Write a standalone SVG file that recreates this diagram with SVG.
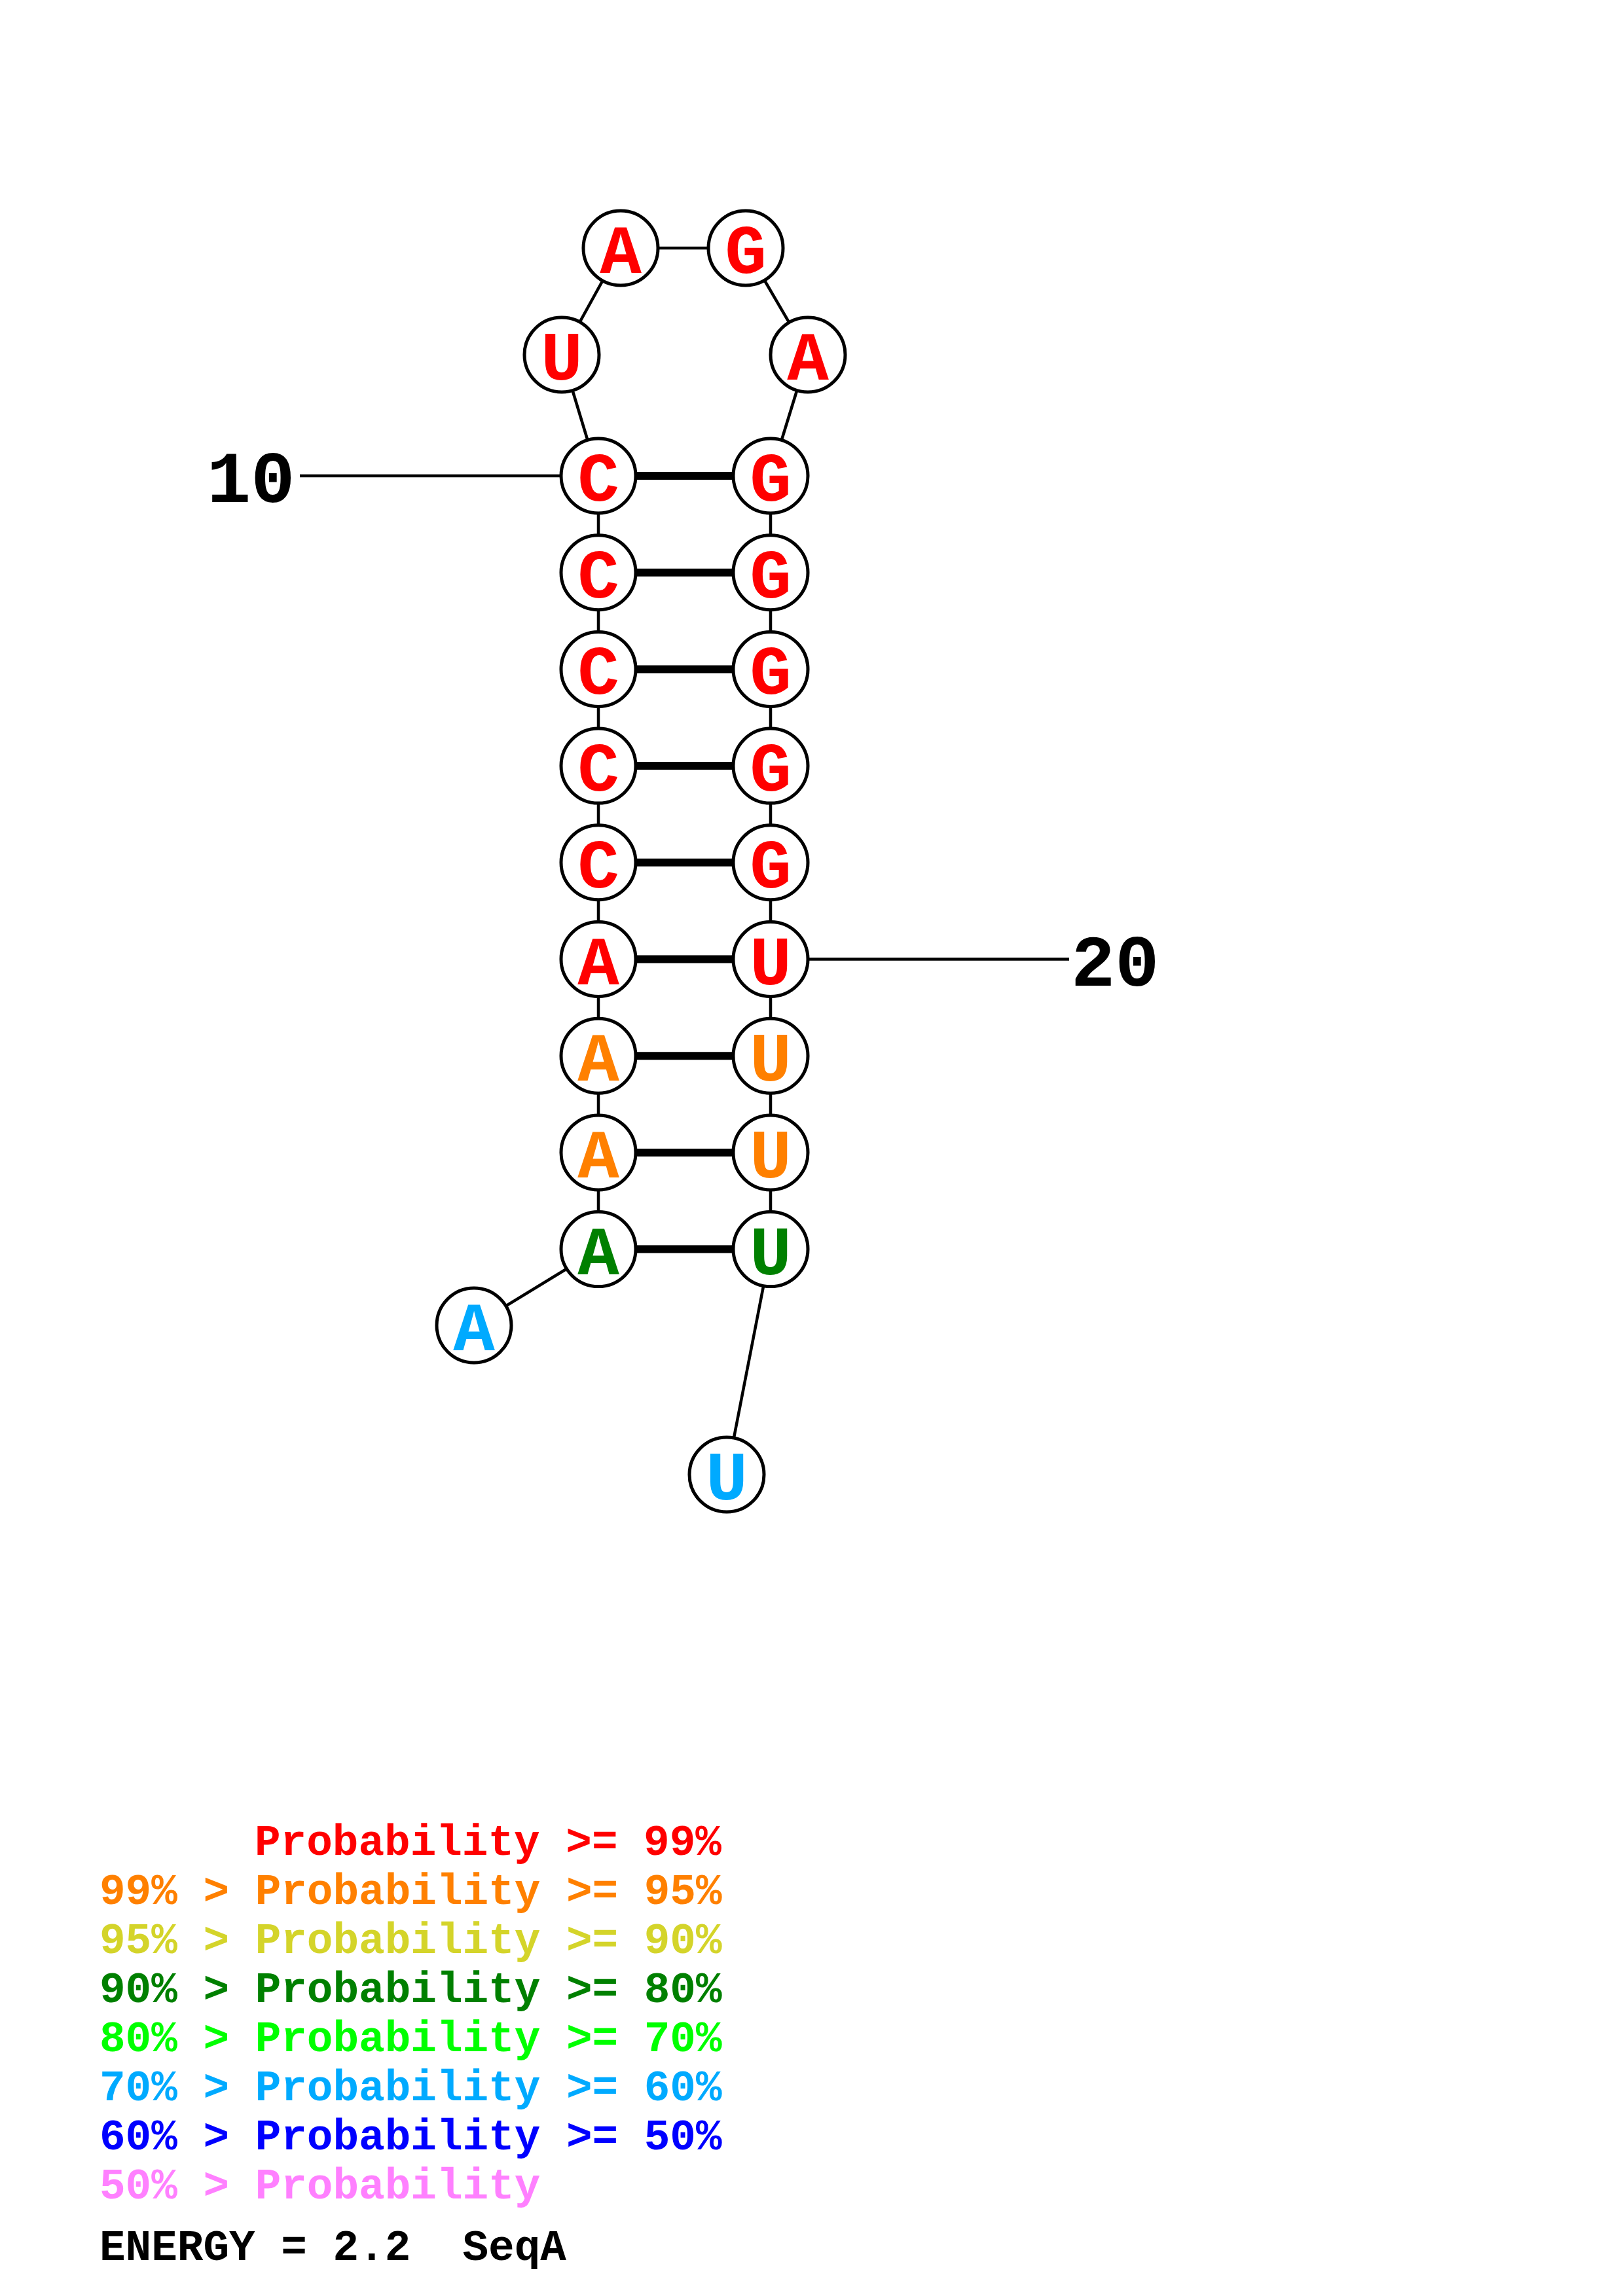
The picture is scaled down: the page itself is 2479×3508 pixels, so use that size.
<svg xmlns="http://www.w3.org/2000/svg" width="2479" height="3508" viewBox="0 0 2479 3508">
<style>
.bb{stroke:#000;stroke-width:4.5;fill:none}
.bp{stroke:#000;stroke-width:12;fill:none}
.nc{fill:#fff;stroke:#000;stroke-width:5}
.nt{font-family:"Liberation Mono","DejaVu Sans Mono",monospace;font-weight:bold;font-size:106px;text-anchor:middle}
.lab{font-family:"Liberation Mono","DejaVu Sans Mono",monospace;font-weight:bold;font-size:112px;fill:#000}
.lg{font-family:"Liberation Mono","DejaVu Sans Mono",monospace;font-weight:bold;font-size:66px}
.r{fill:#ff0000}.o{fill:#ff8000}.y{fill:#d4d42a}.g{fill:#008000}.lgr{fill:#00ff00}.sb{fill:#00aaff}.b{fill:#0000ff}.p{fill:#ff80ff}.k{fill:#000}
</style>
<rect width="2479" height="3508" fill="#fff"/>
<g id="connectors">
<line class="bb" x1="724" y1="2025" x2="914" y2="1909"/>
<line class="bb" x1="914" y1="1909" x2="914" y2="727"/>
<line class="bb" x1="914" y1="727" x2="858" y2="542"/>
<line class="bb" x1="858" y1="542" x2="948" y2="379"/>
<line class="bb" x1="948" y1="379" x2="1139" y2="379"/>
<line class="bb" x1="1139" y1="379" x2="1234" y2="542"/>
<line class="bb" x1="1234" y1="542" x2="1177" y2="727"/>
<line class="bb" x1="1177" y1="727" x2="1177" y2="1909"/>
<line class="bb" x1="1177" y1="1909" x2="1110" y2="2253"/>
<line class="bp" x1="914" y1="727" x2="1177" y2="727"/>
<line class="bp" x1="914" y1="874.7" x2="1177" y2="874.7"/>
<line class="bp" x1="914" y1="1022.4" x2="1177" y2="1022.4"/>
<line class="bp" x1="914" y1="1170.1" x2="1177" y2="1170.1"/>
<line class="bp" x1="914" y1="1317.8" x2="1177" y2="1317.8"/>
<line class="bp" x1="914" y1="1465.5" x2="1177" y2="1465.5"/>
<line class="bp" x1="914" y1="1613.2" x2="1177" y2="1613.2"/>
<line class="bp" x1="914" y1="1760.9" x2="1177" y2="1760.9"/>
<line class="bp" x1="914" y1="1908.6" x2="1177" y2="1908.6"/>
<line class="bb" x1="458" y1="727" x2="914" y2="727"/>
<line class="bb" x1="1177" y1="1465.5" x2="1633" y2="1465.5"/>
</g>
<g id="n1"><circle class="nc" cx="724" cy="2025" r="57"/><text class="nt sb" x="724" y="2063">A</text></g>
<g id="n2"><circle class="nc" cx="914" cy="1908.6" r="57"/><text class="nt g" x="914" y="1946.6">A</text></g>
<g id="n3"><circle class="nc" cx="914" cy="1760.9" r="57"/><text class="nt o" x="914" y="1798.9">A</text></g>
<g id="n4"><circle class="nc" cx="914" cy="1613.2" r="57"/><text class="nt o" x="914" y="1651.2">A</text></g>
<g id="n5"><circle class="nc" cx="914" cy="1465.5" r="57"/><text class="nt r" x="914" y="1503.5">A</text></g>
<g id="n6"><circle class="nc" cx="914" cy="1317.8" r="57"/><text class="nt r" x="914" y="1355.8">C</text></g>
<g id="n7"><circle class="nc" cx="914" cy="1170.1" r="57"/><text class="nt r" x="914" y="1208.1">C</text></g>
<g id="n8"><circle class="nc" cx="914" cy="1022.4" r="57"/><text class="nt r" x="914" y="1060.4">C</text></g>
<g id="n9"><circle class="nc" cx="914" cy="874.7" r="57"/><text class="nt r" x="914" y="912.7">C</text></g>
<g id="n10"><circle class="nc" cx="914" cy="727" r="57"/><text class="nt r" x="914" y="765">C</text></g>
<g id="n11"><circle class="nc" cx="858" cy="542" r="57"/><text class="nt r" x="858" y="580">U</text></g>
<g id="n12"><circle class="nc" cx="948" cy="379" r="57"/><text class="nt r" x="948" y="417">A</text></g>
<g id="n13"><circle class="nc" cx="1139" cy="379" r="57"/><text class="nt r" x="1139" y="417">G</text></g>
<g id="n14"><circle class="nc" cx="1234" cy="542" r="57"/><text class="nt r" x="1234" y="580">A</text></g>
<g id="n15"><circle class="nc" cx="1177" cy="727" r="57"/><text class="nt r" x="1177" y="765">G</text></g>
<g id="n16"><circle class="nc" cx="1177" cy="874.7" r="57"/><text class="nt r" x="1177" y="912.7">G</text></g>
<g id="n17"><circle class="nc" cx="1177" cy="1022.4" r="57"/><text class="nt r" x="1177" y="1060.4">G</text></g>
<g id="n18"><circle class="nc" cx="1177" cy="1170.1" r="57"/><text class="nt r" x="1177" y="1208.1">G</text></g>
<g id="n19"><circle class="nc" cx="1177" cy="1317.8" r="57"/><text class="nt r" x="1177" y="1355.8">G</text></g>
<g id="n20"><circle class="nc" cx="1177" cy="1465.5" r="57"/><text class="nt r" x="1177" y="1503.5">U</text></g>
<g id="n21"><circle class="nc" cx="1177" cy="1613.2" r="57"/><text class="nt o" x="1177" y="1651.2">U</text></g>
<g id="n22"><circle class="nc" cx="1177" cy="1760.9" r="57"/><text class="nt o" x="1177" y="1798.9">U</text></g>
<g id="n23"><circle class="nc" cx="1177" cy="1908.6" r="57"/><text class="nt g" x="1177" y="1946.6">U</text></g>
<g id="n24"><circle class="nc" cx="1110" cy="2253" r="57"/><text class="nt sb" x="1110" y="2291">U</text></g>
<g id="labels">
<text class="lab" x="316" y="767">10</text>
<text class="lab" x="1636" y="1506">20</text>
</g>
<g id="legend">
<text class="lg r" x="389" y="2834">Probability &gt;= 99%</text>
<text class="lg o" x="152" y="2909">99% &gt; Probability &gt;= 95%</text>
<text class="lg y" x="152" y="2984">95% &gt; Probability &gt;= 90%</text>
<text class="lg g" x="152" y="3059">90% &gt; Probability &gt;= 80%</text>
<text class="lg lgr" x="152" y="3134">80% &gt; Probability &gt;= 70%</text>
<text class="lg sb" x="152" y="3209">70% &gt; Probability &gt;= 60%</text>
<text class="lg b" x="152" y="3284">60% &gt; Probability &gt;= 50%</text>
<text class="lg p" x="152" y="3359">50% &gt; Probability</text>
<text class="lg k" x="152" y="3453" xml:space="preserve">ENERGY = 2.2  SeqA</text>
</g>
</svg>
